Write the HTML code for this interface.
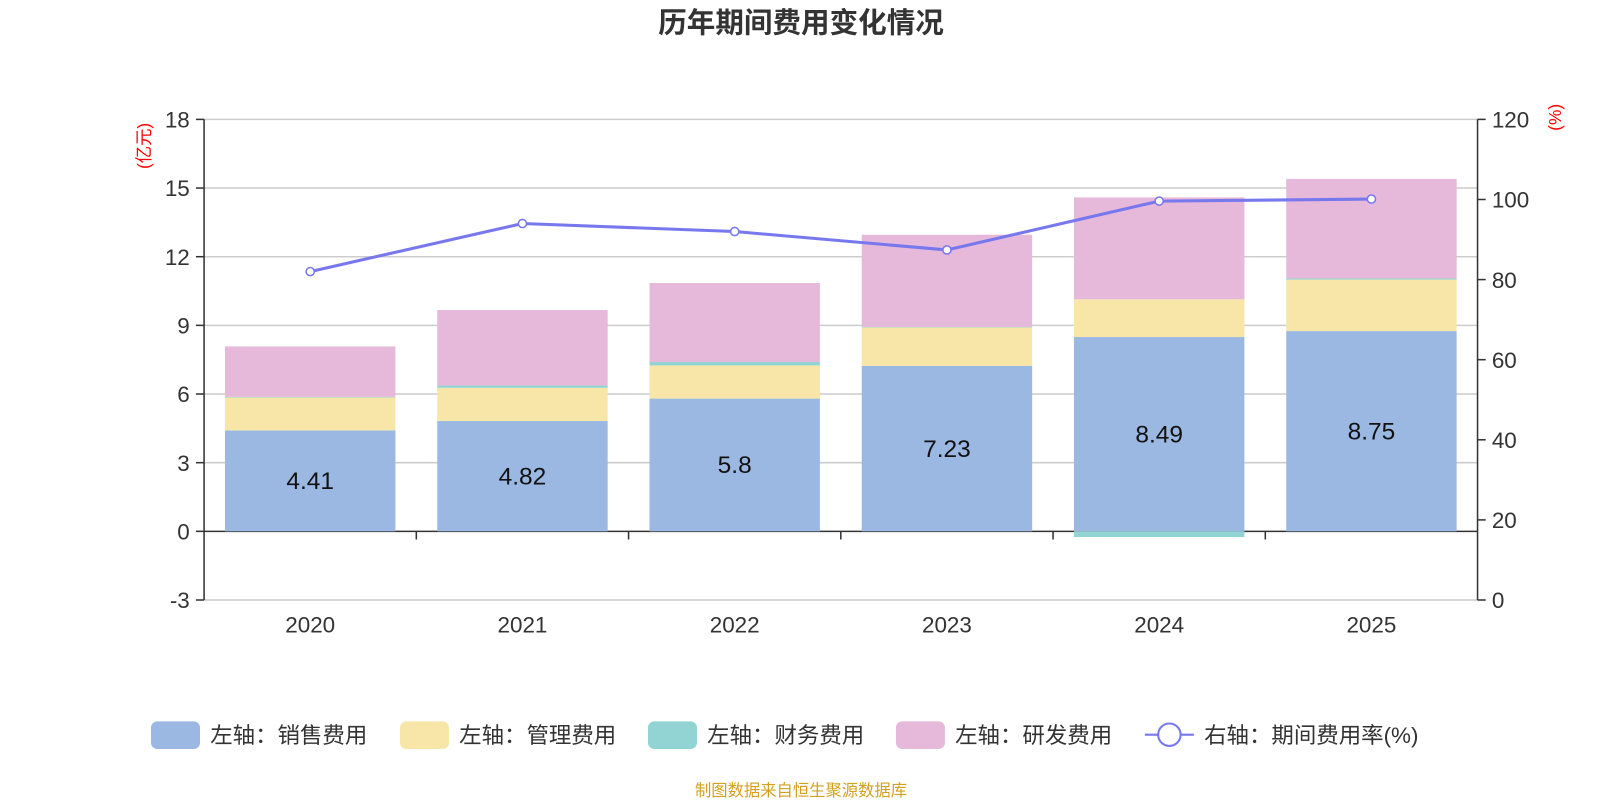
<!DOCTYPE html>
<html><head><meta charset="utf-8"><style>
body{margin:0;background:#fff;width:1600px;height:800px;overflow:hidden;font-family:"Liberation Sans","Noto Sans CJK SC",sans-serif}
</style></head><body>
<svg id="c" width="1600" height="800" viewBox="0 0 1568 784" xmlns="http://www.w3.org/2000/svg" font-family="Liberation Sans, Noto Sans CJK SC, sans-serif">
<text x="785" y="32" text-anchor="middle" font-size="28" font-weight="bold" fill="#333">历年期间费用变化情况</text>
<text transform="translate(147,143) rotate(-90)" text-anchor="middle" font-size="17" fill="#f00">(亿元)</text>
<text transform="translate(1530,115) rotate(-90)" text-anchor="middle" font-size="17" fill="#f00">(%)</text>
<g id="grid"></g><g id="bars"></g><g id="axes"></g><g id="line"></g>
<g id="legend" font-size="22" fill="#333"></g>
<text x="785" y="780" text-anchor="middle" font-size="16" fill="#d4a020">制图数据来自恒生聚源数据库</text>
</svg>
<script>
const years=["2020","2021","2022","2023","2024","2025"];
const sales=[4.41,4.82,5.8,7.23,8.49,8.75];
const mgmt=[1.44,1.45,1.45,1.68,1.65,2.25];
const fin=[0.03,0.1,0.15,0.02,-0.25,0.05];
const rnd=[2.2,3.3,3.45,4.03,4.45,4.35];
const rate=[82,94,92,87.4,99.6,100.1];
const leftTicks=[-3,0,3,6,9,12,15,18];
const rightTicks=[0,20,40,60,80,100,120];
const NS="http://www.w3.org/2000/svg";
const X0=200,X1=1448,YT=117,YB=588;
const yL=v=>YB-(v+3)/21*(YB-YT);
const yR=v=>YB-v/120*(YB-YT);
const bw=(X1-X0)/years.length;
const xC=i=>X0+bw*(i+0.5);
function mk(p,tag,a,txt){const e=document.createElementNS(NS,tag);for(const k in a)e.setAttribute(k,a[k]);if(txt!=null)e.textContent=txt;document.getElementById(p).appendChild(e);return e;}
leftTicks.forEach(v=>{
 let l=mk('grid','line',{x1:X0,x2:X1,y1:yL(v),y2:yL(v),stroke:v===0?'#333':'#ccc','stroke-width':1.5});
 
 mk('axes','line',{x1:X0-8,x2:X0,y1:yL(v),y2:yL(v),stroke:'#333','stroke-width':1.5});
 let t=mk('axes','text',{x:X0-14,y:yL(v)+8,'text-anchor':'end','font-size':22,fill:'#333'},String(v));
 
});
rightTicks.forEach(v=>{
 mk('axes','line',{x1:X1,x2:X1+8,y1:yR(v),y2:yR(v),stroke:'#333','stroke-width':1.5});
 let t=mk('axes','text',{x:X1+14,y:yR(v)+8,'font-size':22,fill:'#333'},String(v));
 
});
mk('axes','line',{x1:X0,x2:X0,y1:YT,y2:YB,stroke:'#333','stroke-width':1.5});
mk('axes','line',{x1:X1,x2:X1,y1:YT,y2:YB,stroke:'#333','stroke-width':1.5});
for(let i=1;i<years.length;i++)mk('axes','line',{x1:X0+bw*i,x2:X0+bw*i,y1:yL(0),y2:yL(0)+8,stroke:'#333','stroke-width':1.5});
years.forEach((y,i)=>{
 let t=mk('axes','text',{x:xC(i),y:620,'text-anchor':'middle','font-size':22,fill:'#333'},y);
 
});
const series=[[sales,'#9bb8e2','bar-sales'],[mgmt,'#f7e6a8','bar-mgmt'],[fin,'#92d4d4','bar-finance'],[rnd,'#e6b8da','bar-rnd']];
const W=167;
years.forEach((y,i)=>{
 let pos=0,neg=0;
 series.forEach(([arr,col,name])=>{
  const v=arr[i];let a,b;
  if(v>=0){a=pos;b=pos+v;pos=b;}else{a=neg;b=neg+v;neg=b;}
  const r=mk('bars','rect',{x:xC(i)-W/2,y:Math.min(yL(a),yL(b)),width:W,height:Math.abs(yL(a)-yL(b)),fill:col});
  
 });
 const t=mk('bars','text',{x:xC(i),y:(yL(0)+yL(sales[i]))/2+8,'text-anchor':'middle','font-size':24,fill:'#111'},String(sales[i]));
 
});
const pl=mk('line','polyline',{points:rate.map((v,i)=>xC(i)+','+yR(v)).join(' '),fill:'none',stroke:'#7777ee','stroke-width':3});

rate.forEach((v,i)=>{const c=mk('line','circle',{cx:xC(i),cy:yR(v),r:4,fill:'#fff',stroke:'#7777ee','stroke-width':1.5});
 });
const leg=[['#9bb8e2','左轴：销售费用',148],['#f7e6a8','左轴：管理费用',392],['#92d4d4','左轴：财务费用',635],['#e6b8da','左轴：研发费用',878]];
leg.forEach(([c,t,x])=>{
 const r=mk('legend','rect',{x:x,y:707,width:48,height:27,rx:6,fill:c});
 
 const tx=mk('legend','text',{x:x+58,y:728},t);
 
});
mk('legend','line',{x1:1122,x2:1170,y1:720,y2:720,stroke:'#7777ee','stroke-width':2});
mk('legend','circle',{cx:1146,cy:720,r:11,fill:'#fff',stroke:'#7777ee','stroke-width':2});
const lt=mk('legend','text',{x:1180,y:728},'右轴：期间费用率(%)');

</script>
</body></html>
